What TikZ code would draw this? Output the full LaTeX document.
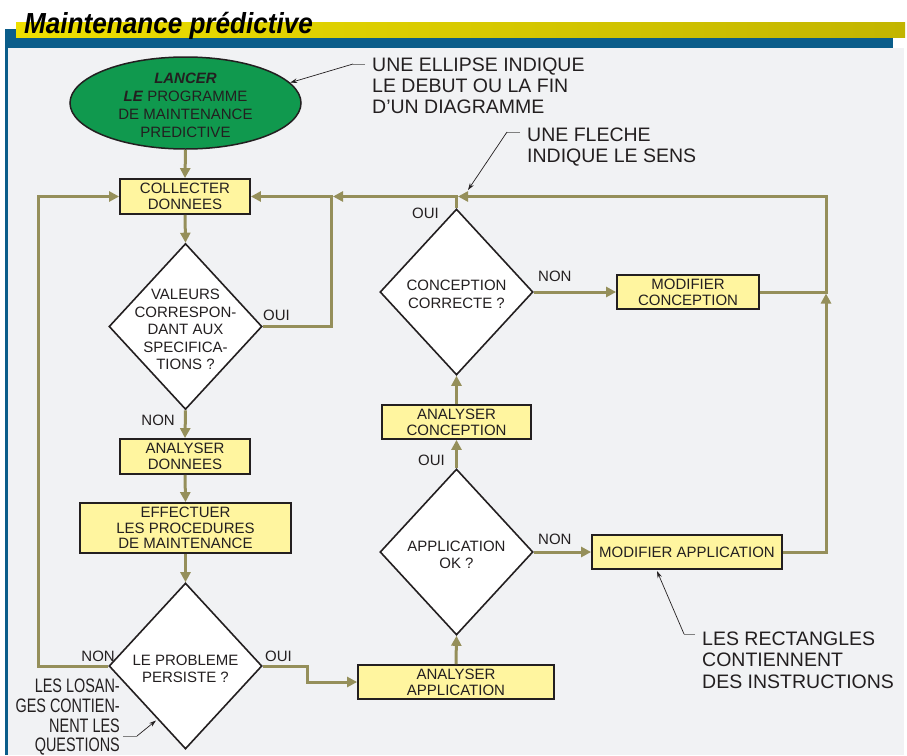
\documentclass[tikz,border=0pt]{standalone}
\usepackage{fontspec}
\setmainfont{Liberation Sans}
\newfontfamily\condfont[FakeStretch=0.74]{Liberation Sans}
\newfontfamily\titlefont[FakeStretch=0.9]{Liberation Sans}
\usetikzlibrary{shapes.geometric,arrows.meta}
\definecolor{panel}{HTML}{F1F2F4}
\definecolor{hdrblue}{HTML}{0B5D8A}
\definecolor{yelL}{HTML}{EEDF00}
\definecolor{yelR}{HTML}{C2B500}
\definecolor{olive}{HTML}{958F5A}
\definecolor{boxfill}{HTML}{FFF59F}
\definecolor{ellgreen}{HTML}{10994E}
\definecolor{ink}{HTML}{231F20}
\begin{document}
\begin{tikzpicture}[x=1pt,y=-1pt,
  box/.style={draw=ink, line width=1.8pt, fill=boxfill, inner sep=0pt, align=center,
    font=\fontsize{15}{15.7}\selectfont, text=ink},
  dia/.style={diamond, draw=ink, line width=1.6pt, fill=white, minimum width=153pt,
    minimum height=166pt, inner sep=0pt},
  dtext/.style={align=center, font=\fontsize{15}{17.6}\selectfont, text=ink, inner sep=0pt},
  flow/.style={draw=olive, line width=3pt, -{Triangle[length=10pt,width=10pt]}},
  lab/.style={font=\fontsize{15}{15}\selectfont, text=ink, inner sep=0pt},
  anno/.style={font=\fontsize{19.5}{21.3}\selectfont, text=ink, align=left, inner sep=0pt},
  leader/.style={draw=ink, line width=0.7pt, -{Stealth[length=7pt,width=4.5pt]}},
  leadgrey/.style={draw=gray, line width=0.7pt}
]
\useasboundingbox (0,0) rectangle (907,755);
\clip (0,0) rectangle (907,755);
% background and header
\fill[white] (0,0) rectangle (907,755);
\fill[panel] (5,48) rectangle (904,755);
\fill[hdrblue] (5,29) rectangle (893,48);
\shade[left color=yelL,right color=yelR] (16,22) rectangle (905,37);
\fill[hdrblue] (5,48) rectangle (8,755);
\node[anchor=base west, inner sep=0pt, text=black,
  font=\titlefont\fontsize{29}{29}\selectfont\bfseries\itshape] (title) at (24,33) {Maintenance prédictive};

% nodes
\node[ellipse, draw=ink, line width=1.5pt, fill=ellgreen, minimum width=231pt,
  minimum height=92pt, inner sep=0pt] (start) at (185.5,103) {};
\node[dtext, font=\fontsize{15}{18.2}\selectfont] (startt) at (185.5,105.5)
  {\textbf{\textit{LANCER}}\\\textbf{\textit{LE}} PROGRAMME\\DE MAINTENANCE\\PREDICTIVE};
\node[box, minimum width=130pt, minimum height=35pt] (collect) at (185,196.5) {COLLECTER\\DONNEES};
\node[dia] (d1) at (185.5,326.5) {};
\node[dtext] (d1t) at (185.5,329.5) {VALEURS\\CORRESPON-\\DANT AUX\\SPECIFICA-\\TIONS ?};
\node[box, minimum width=130pt, minimum height=35pt] (anad) at (185,456.5) {ANALYSER\\DONNEES};
\node[box, minimum width=211pt, minimum height=50pt] (effect) at (185.5,528) {EFFECTUER\\LES PROCEDURES\\DE MAINTENANCE};
\node[dia] (d2) at (185.5,666) {};
\node[dtext] (d2t) at (185.5,669) {LE PROBLEME\\PERSISTE ?};
\node[dia] (d3) at (456.5,292) {};
\node[dtext] (d3t) at (456.5,294.5) {CONCEPTION\\CORRECTE ?};
\node[box, minimum width=149pt, minimum height=34pt] (anac) at (456.5,422) {ANALYSER\\CONCEPTION};
\node[dia] (d4) at (456.5,552) {};
\node[dtext] (d4t) at (456.5,555) {APPLICATION\\OK ?};
\node[box, minimum width=196pt, minimum height=34pt] (anaa) at (456,682) {ANALYSER\\APPLICATION};
\node[box, minimum width=142pt, minimum height=34pt] (modc) at (688,292) {MODIFIER\\CONCEPTION};
\node[box, minimum width=190pt, minimum height=34pt] (moda) at (687,552) {MODIFIER APPLICATION};

% junctions
\coordinate (jL) at (38,196.5);
\coordinate (jR1) at (331.5,196.5);
\coordinate (jTop) at (456.5,196.5);
\coordinate (jRR) at (826,196.5);
\coordinate (jRM) at (826,292);
\coordinate (jS) at (307,666);

% connectors
\draw[flow] (start.south) -- (collect.north);
\draw[flow] (collect.south) -- (d1.north);
\draw[flow] (d1.east) -| (jR1) -- (collect.east);
\draw[flow] (d1.south) -- (anad.north);
\draw[flow] (anad.south) -- (effect.north);
\draw[flow] (effect.south) -- (d2.north);
\draw[flow] (d2.west) -| (jL) -- (collect.west);
\draw[flow] (d2.east) -- (jS) |- (anaa.west);
\draw[flow] (anaa.north) -- (d4.south);
\draw[flow] (d4.north) -- (anac.south);
\draw[flow] (anac.north) -- (d3.south);
\draw[flow, shorten >=1.5pt] (d3.north) -- (jTop) -- (jR1);
\draw[flow] (d3.east) -- (modc.west);
\draw[flow, shorten >=1.5pt] (modc.east) -| (jRR) -- (jTop);
\draw[flow] (d4.east) -- (moda.west);
\draw[flow, shorten >=1.5pt] (moda.east) -| (jRM);

% branch labels
\node[lab, anchor=west] (l1) at (263,315) {OUI};
\node[lab, anchor=east] (l2) at (175,420.7) {NON};
\node[lab, anchor=east] (l3) at (439,213) {OUI};
\node[lab, anchor=west] (l4) at (538,276.7) {NON};
\node[lab, anchor=east] (l5) at (445,460) {OUI};
\node[lab, anchor=west] (l6) at (538,539) {NON};
\node[lab, anchor=east] (l7) at (115,656) {NON};
\node[lab, anchor=west] (l8) at (265,656) {OUI};

% annotations
\node[anno, anchor=north west] (a1) at (372,57.3) {UNE ELLIPSE INDIQUE\\LE DEBUT OU LA FIN\\D'UN DIAGRAMME};
\node[anno, anchor=north west] (a2) at (527,127.3) {UNE FLECHE\\INDIQUE LE SENS};
\node[anno, anchor=north west] (a3) at (702,631.7) {LES RECTANGLES\\CONTIENNENT\\DES INSTRUCTIONS};
\node[anno, font=\condfont\fontsize{19.5}{19.6}\selectfont, align=right, anchor=north east] (a4)
  at (120,679) {LES LOSAN-\\GES CONTIEN-\\NENT LES\\QUESTIONS};

\coordinate (e1a) at (365,64); \coordinate (e1b) at (353,64);
\draw[leadgrey] (e1a) -- (e1b);
\draw[leader] (e1b) -- (start.11);
\coordinate (e2a) at (520,132); \coordinate (e2b) at (507,132); \coordinate (e2t) at (468,190);
\draw[leadgrey] (e2a) -- (e2b);
\draw[leader] (e2b) -- (e2t);
\coordinate (e3a) at (695,634); \coordinate (e3b) at (684,634); \coordinate (e3t) at (657,571);
\draw[leadgrey] (e3a) -- (e3b);
\draw[leader] (e3b) -- (e3t);
\coordinate (e4a) at (123,736); \coordinate (e4b) at (137,736); \coordinate (e4t) at (156,720.5);
\draw[leadgrey] (e4a) -- (e4b);
\draw[leader] (e4b) -- (e4t);
\end{tikzpicture}
\end{document}
